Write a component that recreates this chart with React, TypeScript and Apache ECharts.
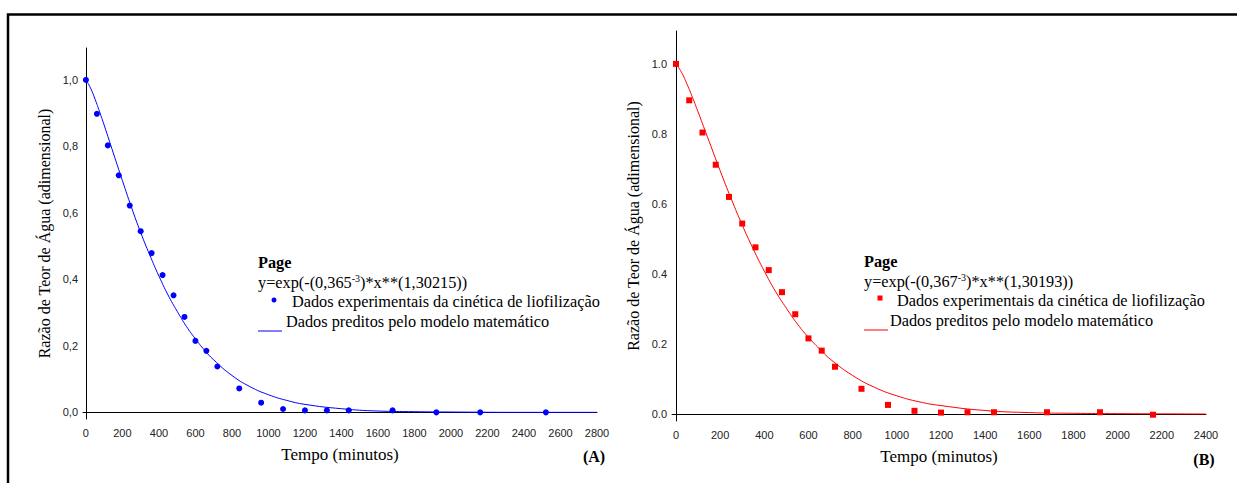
import React, { useEffect, useRef } from "react";
import * as echarts from "echarts";

// ---- Data (A) ----
const timeA = [0, 60, 120, 180, 240, 300, 360, 420, 480, 540, 600, 660, 720, 840, 960, 1080, 1200, 1320, 1440, 1680, 1920, 2160, 2520];
const ratioA = [1.0, 0.898, 0.803, 0.713, 0.622, 0.545, 0.479, 0.413, 0.352, 0.287, 0.215, 0.185, 0.138, 0.072, 0.029, 0.01, 0.006, 0.006, 0.006, 0.006, 0.0, 0.0, 0.0];
const modelTimeA = [0, 25, 50, 75, 100, 150, 200, 250, 300, 350, 400, 450, 500, 550, 600, 650, 700, 800, 900, 1000, 1100, 1200, 1400, 1600, 1800, 2000, 2400, 2800];
const modelRatioA = [1.0, 0.976, 0.942, 0.904, 0.864, 0.78, 0.697, 0.616, 0.541, 0.473, 0.41, 0.353, 0.304, 0.259, 0.221, 0.187, 0.158, 0.111, 0.077, 0.053, 0.036, 0.024, 0.011, 0.004, 0.002, 0.001, 0.0, 0.0];

// ---- Data (B) ----
const timeB = [0, 60, 120, 180, 240, 300, 360, 420, 480, 540, 600, 660, 720, 840, 960, 1080, 1200, 1320, 1440, 1680, 1920, 2160];
const ratioB = [1.0, 0.896, 0.804, 0.712, 0.62, 0.544, 0.476, 0.411, 0.348, 0.285, 0.216, 0.181, 0.135, 0.072, 0.026, 0.009, 0.004, 0.005, 0.005, 0.005, 0.005, -0.002];
const modelTimeB = [0, 25, 50, 75, 100, 150, 200, 250, 300, 350, 400, 450, 500, 550, 600, 650, 700, 800, 900, 1000, 1100, 1200, 1400, 1600, 1800, 2000, 2400];
const modelRatioB = [1.0, 0.976, 0.942, 0.904, 0.863, 0.779, 0.695, 0.615, 0.54, 0.471, 0.408, 0.351, 0.302, 0.257, 0.219, 0.186, 0.156, 0.11, 0.076, 0.052, 0.035, 0.024, 0.01, 0.004, 0.002, 0.001, 0.0];

// ---- Tick labels ----
const xTicksA = [0, 200, 400, 600, 800, 1000, 1200, 1400, 1600, 1800, 2000, 2200, 2400, 2600, 2800];
const xTicksB = [0, 200, 400, 600, 800, 1000, 1200, 1400, 1600, 1800, 2000, 2200, 2400];
const yTicks = [0, 0.2, 0.4, 0.6, 0.8, 1.0];

const yTitle = "Razão de Teor de Água (adimensional)";
const xTitle = "Tempo (minutos)";
const legendTitle = "Page";
const expLabel = "Dados experimentais da cinética de liofilização";
const predLabel = "Dados preditos pelo modelo matemático";

const SERIF = "'Liberation Serif', 'Times New Roman', serif";
const SANS = "'Liberation Sans', Arial, sans-serif";
const BLUE = "#0000FF";
const RED = "#FF0000";
const LEG_FS = 16.3;

function xAxisCfg(gridIndex: number, min: number, max: number, ticks: number[]) {
  return {
    type: "value",
    gridIndex,
    min,
    max,
    name: xTitle,
    nameLocation: "middle",
    nameGap: 27,
    nameTextStyle: { fontFamily: SERIF, fontSize: 17, color: "#000" },
    axisLine: { show: true, lineStyle: { color: "#000", width: 1 } },
    axisTick: { show: false },
    splitLine: { show: false },
    axisLabel: {
      customValues: ticks,
      fontFamily: SANS,
      fontSize: 11,
      color: "#222",
      margin: 8,
      formatter: (v: number) => String(v),
    },
  };
}

function yAxisCfg(gridIndex: number, max: number, comma: boolean) {
  return {
    type: "value",
    gridIndex,
    min: -0.02,
    max,
    name: yTitle,
    nameLocation: "middle",
    nameRotate: 90,
    nameGap: 31,
    nameTextStyle: { fontFamily: SERIF, fontSize: 16, color: "#000" },
    axisLine: { show: true, lineStyle: { color: "#000", width: 1 } },
    axisTick: { show: false },
    splitLine: { show: false },
    axisLabel: {
      customValues: yTicks,
      fontFamily: SANS,
      fontSize: 11,
      color: "#222",
      margin: 5,
      formatter: (v: number) => (comma ? v.toFixed(1).replace(".", ",") : v.toFixed(1)),
    },
  };
}

function legendGraphics(
  x0: number, dy: number, color: string, square: boolean, k: string, n: string,
  markerX: number, expX: number, predX: number
) {
  const t = (text: string, x: number, y: number, extra: any = {}) => ({
    type: "text",
    x,
    y: y + dy,
    style: {
      text,
      fontFamily: SERIF,
      fontSize: LEG_FS,
      fill: "#000",
      align: "left",
      verticalAlign: "middle",
      ...extra,
    },
  });
  const marker = square
    ? { type: "rect", shape: { x: markerX - 2.5, y: 299 + dy - 2.5, width: 5, height: 5 }, style: { fill: color } }
    : { type: "circle", shape: { cx: markerX, cy: 300 + dy, r: 2.5 }, style: { fill: color } };
  return [
    t(legendTitle, x0, 262, { fontWeight: "bold" }),
    {
      type: "text",
      x: x0,
      y: 282 + dy,
      style: {
        text: `{n|y=exp(-(${k}}{s|-3}{n|)*x**(${n}))}`,
        fontFamily: SERIF,
        fill: "#000",
        align: "left",
        verticalAlign: "middle",
        rich: {
          n: { fontFamily: SERIF, fontSize: LEG_FS, fill: "#000", lineHeight: 18 },
          s: { fontFamily: SERIF, fontSize: 10, fill: "#000", lineHeight: 18, verticalAlign: "top" },
        },
      },
    },
    marker,
    t(expLabel, expX, 301),
    { type: "line", shape: { x1: x0, y1: 331 + dy, x2: x0 + 24, y2: 331 + dy }, style: { stroke: color, lineWidth: 1 } },
    t(predLabel, predX, 321),
  ];
}

export default function App() {
  const ref = useRef<HTMLDivElement>(null);

  useEffect(() => {
    if (!ref.current) return;
    const chart = echarts.init(ref.current, undefined, { renderer: "svg" });
    const option: any = {
      animation: false,
      backgroundColor: "#fff",
      grid: [
        { left: 83, right: 1237 - 597, top: 48, height: 371 },
        { left: 672, right: 1237 - 1206, top: 31, height: 390 },
      ],
      xAxis: [xAxisCfg(0, -16, 2800, xTicksA), xAxisCfg(1, -18, 2400, xTicksB)],
      yAxis: [yAxisCfg(0, 1.096, true), yAxisCfg(1, 1.094, false)],
      series: [
        {
          name: predLabel,
          type: "line",
          xAxisIndex: 0,
          yAxisIndex: 0,
          data: modelTimeA.map((x, i) => [x, modelRatioA[i]]),
          smooth: true,
          showSymbol: false,
          lineStyle: { color: BLUE, width: 1 },
          itemStyle: { color: BLUE },
        },
        {
          name: expLabel,
          type: "scatter",
          xAxisIndex: 0,
          yAxisIndex: 0,
          data: timeA.map((x, i) => [x, ratioA[i]]),
          symbol: "circle",
          symbolSize: 6,
          itemStyle: { color: BLUE, opacity: 1 },
        },
        {
          name: predLabel + " B",
          type: "line",
          xAxisIndex: 1,
          yAxisIndex: 1,
          data: modelTimeB.map((x, i) => [x, modelRatioB[i]]),
          smooth: true,
          showSymbol: false,
          lineStyle: { color: RED, width: 1 },
          itemStyle: { color: RED },
        },
        {
          name: expLabel + " B",
          type: "scatter",
          xAxisIndex: 1,
          yAxisIndex: 1,
          data: timeB.map((x, i) => [x, ratioB[i]]),
          symbol: "rect",
          symbolSize: 6,
          itemStyle: { color: RED, opacity: 1 },
        },
      ],
      graphic: [
        {
          type: "polyline",
          shape: { points: [[8, 483], [8, 14.5], [1237, 14.5]] },
          style: { stroke: "#000", lineWidth: 2.5, fill: "none" },
        },
        { type: "text", x: 594, y: 456, style: { text: "(A)", fontFamily: SERIF, fontSize: 16, fontWeight: "bold", fill: "#000", align: "center", verticalAlign: "middle" } },
        { type: "text", x: 1204, y: 459, style: { text: "(B)", fontFamily: SERIF, fontSize: 16, fontWeight: "bold", fill: "#000", align: "center", verticalAlign: "middle" } },
        ...legendGraphics(258, 0, BLUE, false, "0,365", "1,30215", 274, 292, 286),
        ...legendGraphics(864, -1, RED, true, "0,367", "1,30193", 880, 897, 890),
      ],
    };
    chart.setOption(option);
    return () => chart.dispose();
  }, []);

  return (
    <div
      ref={ref}
      style={{ position: "absolute", left: 0, top: 0, width: 1237, height: 483, background: "#fff" }}
    />
  );
}
